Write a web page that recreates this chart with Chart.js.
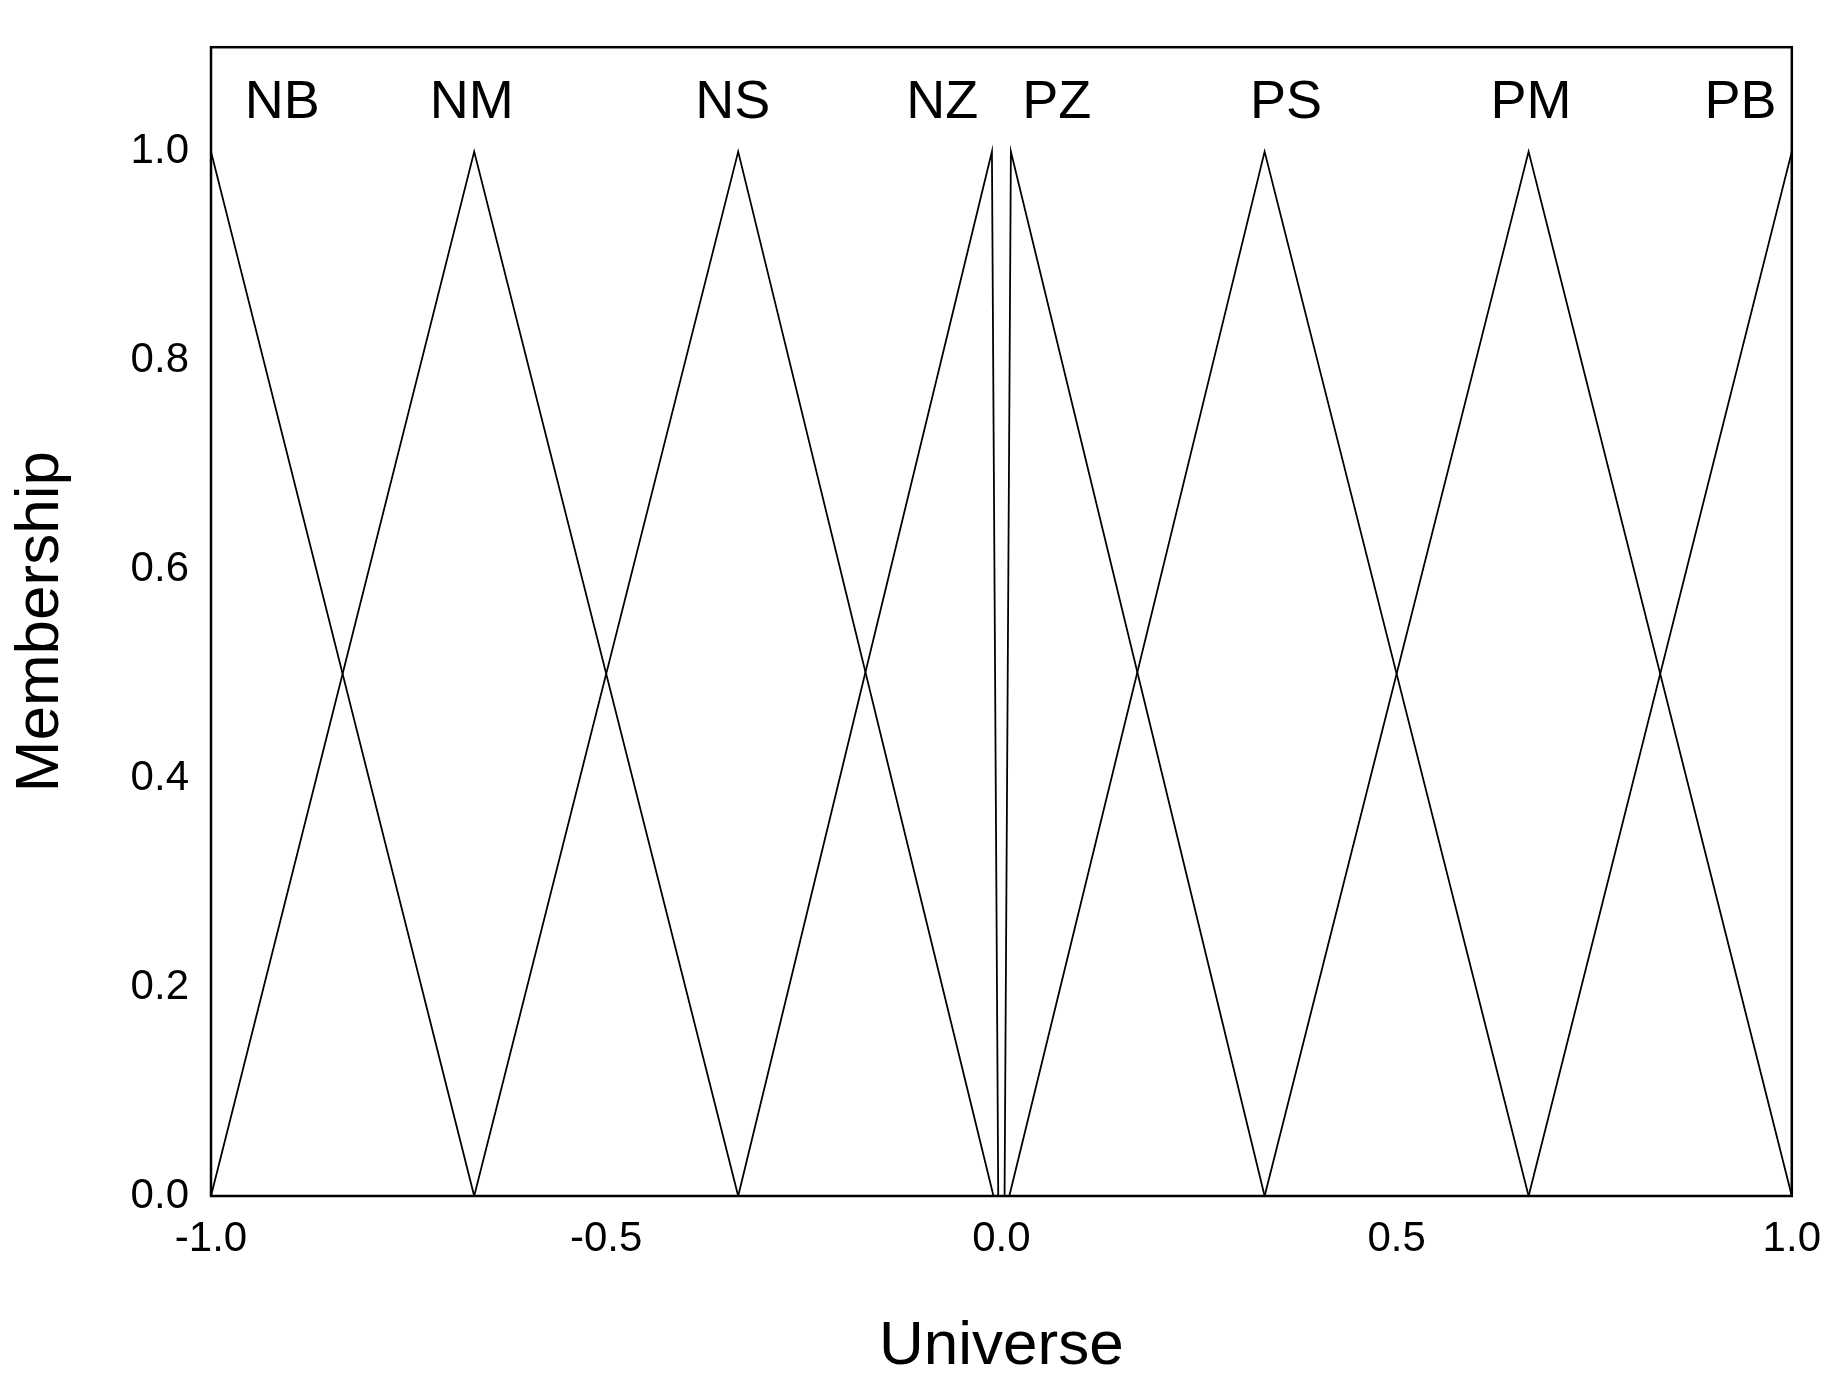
<!DOCTYPE html><html><head><meta charset="utf-8">
<script src="https://cdn.jsdelivr.net/npm/chart.js@4"></script>
<style>html,body{margin:0;padding:0;background:#fff}#w{width:1839px;height:1388px}</style></head><body>
<div id="w"><canvas id="c"></canvas></div>
<script>
const setNames = ["NB","NM","NS","NZ","PZ","PS","PM","PB"];
const setX = [
  [-1.0,-1.0,-0.667],
  [-1.0,-0.667,-0.333],
  [-0.667,-0.333,-0.01],
  [-0.333,-0.012,-0.004],
  [0.004,0.012,0.333],
  [0.01,0.333,0.667],
  [0.333,0.667,1.0],
  [0.667,1.0,1.0]
];
const setY = [
  [0,1,0],[0,1,0],[0,1,0],[0,1,0],[0,1,0],[0,1,0],[0,1,0],[0,1,0]
];
const labelX = [-0.91,-0.67,-0.34,-0.075,0.07,0.36,0.67,0.935];
const xTicks = [-1.0,-0.5,0.0,0.5,1.0];
const yTicks = [0.0,0.2,0.4,0.6,0.8,1.0];

const datasets = setX.map((xs,i)=>({
  label:setNames[i],
  data:xs.map((x,j)=>({x:x,y:setY[i][j]})),
  showLine:true,borderColor:'#000',borderWidth:1.8,pointRadius:0,tension:0
}));
datasets[0].data=[{x:-1,y:0},{x:-1,y:1},{x:-0.667,y:0}];
datasets[7].data=[{x:0.667,y:0},{x:1,y:1},{x:1,y:0}];

const labelsPlugin={id:'lbl',afterDatasetsDraw(ch){
  const c=ch.ctx,xs=ch.scales.x,ys=ch.scales.y,a=ch.chartArea;
  c.save();c.fillStyle='#000';c.font='54px "Liberation Sans", Arial';c.textAlign='center';c.textBaseline='alphabetic';
  setNames.forEach((n,i)=>c.fillText(n,xs.getPixelForValue(labelX[i]),ys.getPixelForValue(1.032)));
  c.strokeStyle='#000';c.lineWidth=2.5;c.strokeRect(a.left,a.top,a.right-a.left,a.bottom-a.top);
  c.restore();}};

new Chart(document.getElementById('c'),{type:'scatter',data:{datasets},
 options:{responsive:true,maintainAspectRatio:false,animation:false,
  layout:{padding:{top:0,right:47,left:0,bottom:0}},
  plugins:{legend:{display:false},tooltip:{enabled:false}},
  scales:{
   x:{type:'linear',min:-1,max:1,grid:{display:false,drawTicks:false},border:{display:false},
     afterBuildTicks(s){s.ticks=xTicks.map(v=>({value:v}));},
     afterFit(s){s.height=192;},
     ticks:{padding:18,color:'#000',font:{size:42,family:'"Liberation Sans", Arial'},callback:v=>v.toFixed(1),maxRotation:0},
     title:{display:true,text:'Universe',color:'#000',font:{size:62,family:'"Liberation Sans", Arial'},padding:{top:34}}},
   y:{type:'linear',min:0,max:1.1,grid:{display:false,drawTicks:false},border:{display:false},
     afterBuildTicks(s){s.ticks=yTicks.map(v=>({value:v}));},
     afterFit(s){s.width=211;},
     ticks:{padding:22,color:'#000',font:{size:42,family:'"Liberation Sans", Arial'},callback:v=>v.toFixed(1)},
     title:{display:true,text:'Membership',color:'#000',font:{size:62,family:'"Liberation Sans", Arial'},padding:{bottom:18}}}
  }},plugins:[labelsPlugin]});
</script></body></html>
